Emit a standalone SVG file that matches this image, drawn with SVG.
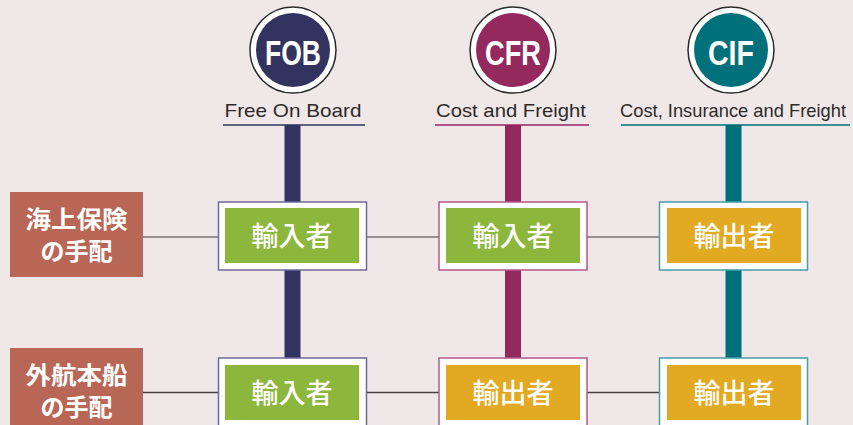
<svg xmlns="http://www.w3.org/2000/svg" width="853" height="425" viewBox="0 0 853 425">
<style>
.bg{fill:#f0e7e8}
.ring{fill:#fff;stroke:#2a2a2a;stroke-width:1.5}
.code{font-family:"Liberation Sans",Arial,sans-serif;font-weight:bold;font-size:35px;fill:#fff;text-anchor:middle}
.sub{font-family:"Liberation Sans",Arial,sans-serif;font-size:19px;fill:#2e2a2a;text-anchor:middle}
.hl{stroke:#7a7072;stroke-width:1.6;fill:none}
.hl2{stroke:#4a4244;stroke-width:1.6;fill:none}
.lab{fill:#b86757}
.labt{font-family:"Noto Sans CJK JP",sans-serif;font-weight:bold;font-size:24px;fill:#fff;text-anchor:middle}
.outer{fill:#fff;stroke-width:1.5}
.imp{fill:#8db63d}
.exp{fill:#e2a923}
.bt{font-family:"Noto Sans CJK JP",sans-serif;font-weight:500;font-size:27px;fill:#fff;text-anchor:middle}
</style>
<rect class="bg" x="0" y="0" width="853" height="425"/>
<g id="connectors">
<line class="hl" x1="143" y1="237" x2="218" y2="237"/>
<line class="hl" x1="367" y1="237" x2="439" y2="237"/>
<line class="hl" x1="587" y1="237" x2="659" y2="237"/>
<line class="hl2" x1="143" y1="392.5" x2="218" y2="392.5"/>
<line class="hl2" x1="367" y1="392.5" x2="439" y2="392.5"/>
<line class="hl2" x1="587" y1="392.5" x2="659" y2="392.5"/>
<rect x="284.5" y="125" width="16" height="234" fill="#33335f"/>
<rect x="505" y="125" width="16" height="234" fill="#93295d"/>
<rect x="725.5" y="125" width="16" height="234" fill="#00707a"/>
</g>
<g id="fob">
<circle class="ring" cx="293" cy="50" r="43"/>
<circle cx="293" cy="50" r="37" fill="#33335f"/>
<text class="code" x="293" y="65" textLength="56" lengthAdjust="spacingAndGlyphs">FOB</text>
<text class="sub" x="293" y="117" textLength="137" lengthAdjust="spacingAndGlyphs">Free On Board</text>
<line x1="223" y1="125" x2="365" y2="125" stroke="#33335f" stroke-width="1.5"/>
</g>
<g id="cfr">
<circle class="ring" cx="513" cy="50" r="43"/>
<circle cx="513" cy="50" r="37" fill="#93295d"/>
<text class="code" x="513" y="65" textLength="56" lengthAdjust="spacingAndGlyphs">CFR</text>
<text class="sub" x="511" y="117" textLength="150" lengthAdjust="spacingAndGlyphs">Cost and Freight</text>
<line x1="435" y1="125" x2="589" y2="125" stroke="#93295d" stroke-width="1.5"/>
</g>
<g id="cif">
<circle class="ring" cx="731" cy="50" r="43"/>
<circle cx="731" cy="50" r="37" fill="#00707a"/>
<text class="code" x="731" y="65" textLength="46" lengthAdjust="spacingAndGlyphs">CIF</text>
<text class="sub" x="733" y="117" textLength="226" lengthAdjust="spacingAndGlyphs">Cost, Insurance and Freight</text>
<line x1="621" y1="125" x2="850" y2="125" stroke="#00707a" stroke-width="1.5"/>
</g>
<g id="label-insurance">
<rect class="lab" x="10" y="192" width="133" height="85"/>
<text class="labt" x="76.5" y="228" textLength="102" lengthAdjust="spacingAndGlyphs">海上保険</text>
<text class="labt" x="76.5" y="260">の手配</text>
</g>
<g id="label-ship">
<rect class="lab" x="10" y="348" width="133" height="85"/>
<text class="labt" x="76.5" y="383.5" textLength="102" lengthAdjust="spacingAndGlyphs">外航本船</text>
<text class="labt" x="76.5" y="416">の手配</text>
</g>
<g id="fob-insurance">
<rect class="outer" x="218.5" y="202" width="148" height="68" stroke="#6e6a95"/>
<rect class="imp" x="225" y="208" width="134" height="55"/>
<text class="bt" x="292" y="246">輸入者</text>
</g>
<g id="cfr-insurance">
<rect class="outer" x="439" y="202" width="148" height="68" stroke="#b05a87"/>
<rect class="imp" x="446" y="208" width="134" height="55"/>
<text class="bt" x="513" y="246">輸入者</text>
</g>
<g id="cif-insurance">
<rect class="outer" x="659.5" y="202" width="148" height="68" stroke="#4a9ca5"/>
<rect class="exp" x="667" y="208" width="134" height="55"/>
<text class="bt" x="734" y="246">輸出者</text>
</g>
<g id="fob-ship">
<rect class="outer" x="218.5" y="358" width="148" height="68" stroke="#6e6a95"/>
<rect class="imp" x="225" y="365" width="134" height="55"/>
<text class="bt" x="292" y="403">輸入者</text>
</g>
<g id="cfr-ship">
<rect class="outer" x="439" y="358" width="148" height="68" stroke="#b05a87"/>
<rect class="exp" x="446" y="365" width="134" height="55"/>
<text class="bt" x="513" y="403">輸出者</text>
</g>
<g id="cif-ship">
<rect class="outer" x="659.5" y="358" width="148" height="68" stroke="#4a9ca5"/>
<rect class="exp" x="667" y="365" width="134" height="55"/>
<text class="bt" x="734" y="403">輸出者</text>
</g>
</svg>
